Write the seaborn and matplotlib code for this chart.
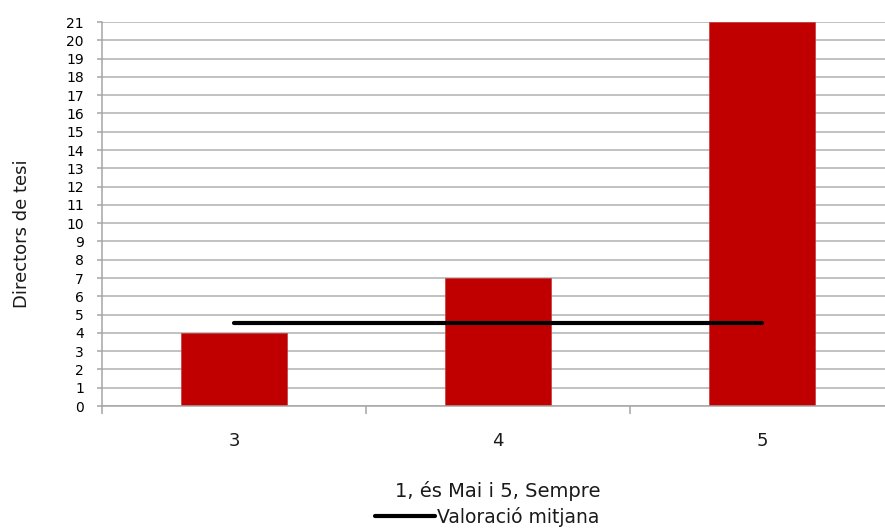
import numpy as np
import matplotlib
matplotlib.use('Agg')
import matplotlib.pyplot as plt
import seaborn as sns
import pandas as pd

# valors llegits del grafic
categories = ['3', '4', '5']
directors = [4, 7, 21]
valoracio_mitjana = 4.53

sns.set_theme(style='white')
plt.rcParams['font.family'] = ['DejaVu Sans']

df = pd.DataFrame({'valor': categories, 'directors': directors})

W, H = 885, 529
fig = plt.figure(figsize=(W / 100, H / 100), dpi=100)
# l'area del grafic continua una mica mes enlla de la vora dreta
ax = fig.add_axes([102 / W, 1 - 406 / H, 792 / W, 384 / H])

sns.barplot(data=df, x='valor', y='directors', color='#C00000', width=0.4,
            saturation=1, ax=ax, zorder=2)
for p in ax.patches:
    p.set_edgecolor('#C23a3a')
    p.set_linewidth(0.5)

# linia de la valoracio mitjana, del primer al darrer grup
sns.lineplot(x=[0, len(categories) - 1], y=[valoracio_mitjana] * 2, color='black',
             linewidth=3, ax=ax, zorder=3, label='Valoració mitjana',
             solid_capstyle='round')

ax.set_xlim(-0.5, len(categories) - 0.5)
ax.set_ylim(0, 21)
ax.set_yticks(np.arange(0, 22, 1))
ax.yaxis.grid(True, color='#B0B0B0', linewidth=1.1, zorder=0)
ax.set_axisbelow(True)

for s in ['top', 'right']:
    ax.spines[s].set_visible(False)
for s in ['left', 'bottom']:
    ax.spines[s].set_color('#A6A6A6')
    ax.spines[s].set_linewidth(1.1)

ax.tick_params(axis='y', which='major', left=True, length=3.6, width=1.1,
               color='#A6A6A6', pad=9.4, labelsize=10, labelcolor='black')
ax.set_xticks(np.arange(-0.5, len(categories), 1), minor=True)
ax.tick_params(axis='x', which='minor', bottom=True, length=6, width=1.1,
               color='#A6A6A6')
ax.tick_params(axis='x', which='major', bottom=False, length=0, pad=19,
               labelsize=13, labelcolor='#1A1A1A')

ax.set_xlabel('1, és Mai i 5, Sempre', fontsize=14, color='#1A1A1A')
ax.xaxis.set_label_coords(0.5, -0.195)
ax.set_ylabel('Directors de tesi', fontsize=13, color='#1A1A1A')
ax.yaxis.set_label_coords(-0.09, 0.448)

ax.get_legend().remove()
handles, labels = ax.get_legend_handles_labels()
fig.legend(handles, labels, loc='center', bbox_to_anchor=(487 / W, 1 - 517 / H),
           frameon=False, fontsize=13.5, handlelength=3.2, handletextpad=0.1,
           labelcolor='#1A1A1A')

fig.savefig('out.png', dpi=100)
